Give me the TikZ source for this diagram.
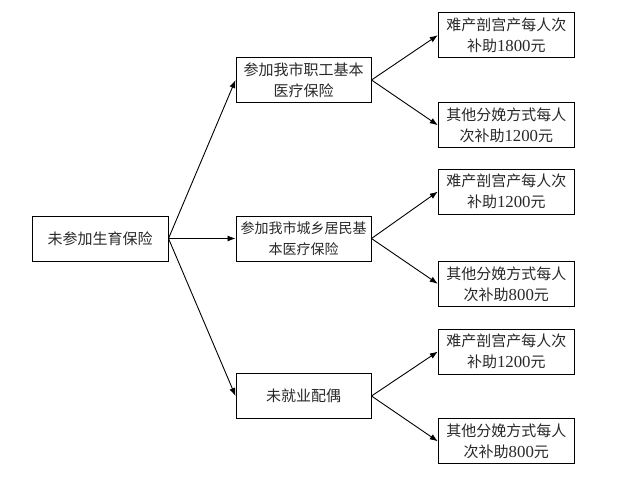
\documentclass[tikz,border=0pt]{standalone}
\usepackage{fontspec}
\setmainfont{Noto Sans CJK SC}
\newfontfamily\numfont[Scale=1.12]{Liberation Serif}
\usepackage{tikz}
\usetikzlibrary{arrows.meta}
\definecolor{TextGray}{RGB}{40,40,40}
\tikzset{
  plainbox/.style={draw,line width=1pt,text=TextGray,align=center,
    inner sep=0pt,minimum width=136pt,minimum height=45pt,
    font=\fontsize{15}{21}\selectfont},
  link/.style={->,line width=0.9pt}
}

\begin{document}
\begin{tikzpicture}[x=1pt,y=-1pt,>={Latex[length=8pt,width=6pt]}]
  \useasboundingbox (0,0) rectangle (620,477);
  % left column
  \node[plainbox] (root) at (100,238.5) {未参加生育保险};
  % middle column
  \node[plainbox,minimum width=135pt] (staff) at (303.5,80) {参加我市职工基本\\医疗保险};
  \node[plainbox,minimum width=135pt,font=\fontsize{14}{21}\selectfont] (resident) at (303.5,238.5) {参加我市城乡居民基\\本医疗保险};
  \node[plainbox,minimum width=135pt] (spouse) at (303.5,396) {未就业配偶};
  % right column
  \node[plainbox] (staffA) at (506.3,35.2) {难产剖宫产每人次\\补助{\numfont 1800}元};
  \node[plainbox] (staffB) at (506.3,125.2) {其他分娩方式每人\\次补助{\numfont 1200}元};
  \node[plainbox] (residentA) at (506.3,191.6) {难产剖宫产每人次\\补助{\numfont 1200}元};
  \node[plainbox] (residentB) at (506.3,283.8) {其他分娩方式每人\\次补助{\numfont 800}元};
  \node[plainbox] (spouseA) at (506.3,351.6) {难产剖宫产每人次\\补助{\numfont 1200}元};
  \node[plainbox] (spouseB) at (506.3,441.3) {其他分娩方式每人\\次补助{\numfont 800}元};
  % connectors
  \foreach \m in {staff,resident,spouse}{
    \draw[link] (root.east) -- (\m.west);
    \draw[link] (\m.east) -- (\m A.west);
    \draw[link] (\m.east) -- (\m B.west);
  }
\end{tikzpicture}
\end{document}
